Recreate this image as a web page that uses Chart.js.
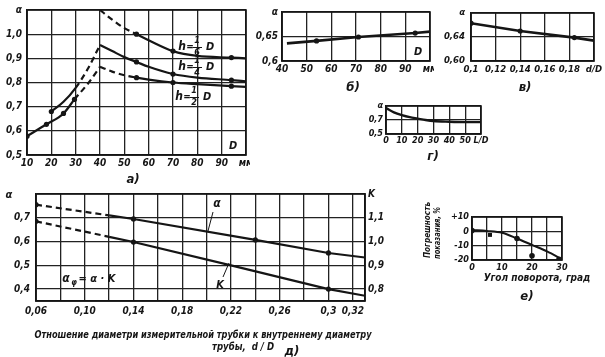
<!DOCTYPE html>
<html><head><meta charset="utf-8">
<script src="https://cdn.jsdelivr.net/npm/chart.js@4/dist/chart.umd.min.js"></script>
<style>
html,body{margin:0;padding:0;background:#fff;}
#wrap{position:relative;width:605px;height:357px;overflow:hidden;background:#fff;}
canvas{position:absolute;}
</style></head><body><div id="wrap"></div>
<script>
// ---------- Panel а) ----------
const aTicksX = [10,20,30,40,50,60,70,80,90,100];
const aLabelsX = ['10','20','30','40','50','60','70','80','90','мм'];
const aTicksY = [0.5,0.6,0.7,0.8,0.9,1.0,1.1];
const aLabelsY = ['0,5','0,6','0,7','0,8','0,9','1,0','α'];
const aD16 = [40,45,50,55,60,70,80,94,100];
const aA16 = [1.10,1.06,1.025,1.0,0.975,0.93,0.91,0.903,0.90];
const aMarks16 = [55,70,94];
const aD14L = [20,25,30,35,40];
const aA14L = [0.68,0.72,0.778,0.857,0.955];
const aMarks14L = [20];
const aD14R = [40,45,50,55,60,70,80,94,100];
const aA14R = [0.955,0.93,0.905,0.885,0.865,0.835,0.82,0.81,0.805];
const aMarks14R = [55,70,94];
const aD12L = [10,18,25,29.5,35,40];
const aA12L = [0.578,0.627,0.672,0.73,0.795,0.865];
const aMarks12L = [10,18,25,29.5];
const aD12R = [40,45,50,55,60,70,80,94,100];
const aA12R = [0.865,0.845,0.83,0.82,0.812,0.80,0.793,0.785,0.782];
const aMarks12R = [55,70,94];

// ---------- Panel б) ----------
const bTicksX = [40,50,60,70,80,90,100];
const bLabelsX = ['40','50','60','70','80','90','мм'];
const bTicksY = [0.6,0.65,0.7];
const bLabelsY = ['0,6','0,65','α'];
const bD = [42,54,71,94,100];
const bA = [0.636,0.641,0.649,0.657,0.66];
const bMarks = [54,71,94];

// ---------- Panel в) ----------
const vTicksX = [0.10,0.12,0.14,0.16,0.18,0.20];
const vLabelsX = ['0,1','0,12','0,14','0,16','0,18','d/D'];
const vTicksY = [0.60,0.64,0.68];
const vLabelsY = ['0,60','0,64','α'];
const vR = [0.10,0.14,0.184,0.20];
const vA = [0.663,0.650,0.639,0.634];
const vMarks = [0.10,0.14,0.184];

// ---------- Panel г) ----------
const gTicksX = [0,10,20,30,40,50,60];
const gLabelsX = ['0','10','20','30','40','50','L/D'];
const gTicksY = [0.5,0.7,0.9];
const gLabelsY = ['0,5','0,7','α'];
const gL = [0,5,10,15,20,25,30,40,50,60];
const gA = [0.87,0.81,0.77,0.74,0.72,0.70,0.685,0.675,0.67,0.67];

// ---------- Panel д) ----------
const dTicksX = [0.06,0.08,0.10,0.12,0.14,0.16,0.18,0.20,0.22,0.24,0.26,0.28,0.30,0.32,0.33];
const dLabelsX = ['0,06','','0,10','','0,14','','0,18','','0,22','','0,26','','0,3','0,32',''];
const dTicksY = [0.35,0.4,0.5,0.6,0.7,0.8];
const dLabelsY = ['','0,4','0,5','0,6','0,7',''];
const dTicksK = [0.75,0.8,0.9,1.0,1.1,1.2];
const dLabelsK = ['','0,8','0,9','1,0','1,1','K'];
const dRa = [0.06,0.12,0.14,0.24,0.30,0.33];
const dAlpha = [0.755,0.71,0.695,0.607,0.552,0.533];
const dMarksA = [0.06,0.14,0.24,0.30];
const dRk = [0.06,0.12,0.14,0.22,0.30,0.33];
const dK = [1.085,1.02,0.998,0.90,0.80,0.772];
const dMarksK = [0.06,0.14,0.30];

// ---------- Panel е) ----------
const eTicksX = [0,5,10,15,20,25,30];
const eLabelsX = ['0','','10','','20','','30'];
const eTicksY = [-20,-10,0,10];
const eLabelsY = ['-20','-10','0','+10'];
const eAngle = [0,5,10,15,20,25,30];
const eErr = [1,0.3,-1,-5,-9.5,-14,-19.5];
const ePtAngle = [0,6,15,20,29];
const ePtErr = [0.5,-2.5,-5,-17,-19.5];
const ePtStyle = ['circle','rect','circle','circle','circle'];

// ================= drawing =================
const BLACK = '#151515';
const FONT = '"DejaVu Sans Condensed","Liberation Sans Narrow","DejaVu Sans",sans-serif';
const wrap = document.getElementById('wrap');

const frame = { id:'frame', afterDraw(c){ const a=c.chartArea, x=c.ctx; x.save(); x.strokeStyle=BLACK; x.lineWidth=1.6; x.strokeRect(a.left,a.top,a.right-a.left,a.bottom-a.top); x.restore(); } };

function axis(pos, min, max, ticks, labels, size, fs, pad, grid) {
  return {
    type:'linear', position:pos, min, max,
    afterBuildTicks: s => { s.ticks = ticks.map(v=>({value:v})); },
    afterFit: s => {
      if (pos==='bottom') { s.height=size; s.paddingLeft=0; s.paddingRight=0; }
      else { s.width=size; s.paddingTop=0; s.paddingBottom=0; }
    },
    ticks: { autoSkip:false, maxRotation:0, minRotation:0, padding:pad, color:BLACK,
      font:{family:FONT, size:fs, style:'italic', weight:'bold'},
      callback: (v,i)=> labels[i] },
    grid: { display:grid, color:'#222', lineWidth:1.3, drawTicks:false },
    border: { display:true, color:BLACK, width:1.6 }
  };
}

function series(xs, ys, o={}) {
  const ds = {
    data: xs.map((x,i)=>({x, y:ys[i]})),
    borderColor:BLACK, backgroundColor:BLACK, borderWidth:o.bw||2.2,
    pointRadius: o.marks ? xs.map(x=> o.marks.includes(x)?2.6:0) : (o.r||0),
    pointHoverRadius:0, pointBorderWidth:0,
    pointStyle: o.style||'circle',
    cubicInterpolationMode: o.smooth?'monotone':'default', tension:0,
    yAxisID: o.axis||'y', showLine: o.line!==false, fill:false
  };
  if (o.dash) ds.segment = { borderDash: ctx => {
    const a=ctx.p0.parsed.x, b=ctx.p1.parsed.x;
    return o.dash.some(([lo,hi]) => a>=lo-1e-9 && b<=hi+1e-9) ? [6,4] : undefined; } };
  return ds;
}

function makePanel(p){
  const W=p.L+p.w+p.R, H=p.T+p.h+p.B;
  const cv=document.createElement('canvas');
  cv.width=W; cv.height=H;
  Object.assign(cv.style,{left:(p.x-p.L)+'px', top:(p.y-p.T)+'px', width:W+'px', height:H+'px'});
  wrap.appendChild(cv);
  const scales = { x: axis('bottom', ...p.xs), y: axis('left', ...p.ys) };
  if (p.y1) scales.y1 = axis('right', ...p.y1);
  new Chart(cv, { type:'line', data:{datasets:p.datasets},
    options:{ responsive:false, animation:false, devicePixelRatio:1, events:[],
      layout:{padding:{top:p.T, right:p.y1?0:p.R, left:0, bottom:0}},
      plugins:{legend:{display:false}, tooltip:{enabled:false}}, scales },
    plugins:[frame] });
}

// а)
makePanel({x:27,y:10,w:219,h:145,L:27,T:10,R:4,B:22,
  xs:[10,100,aTicksX,aLabelsX,22,10,2,true],
  ys:[0.5,1.1,aTicksY,aLabelsY,27,10,5,true],
  datasets:[
    series(aD16,aA16,{smooth:true,marks:aMarks16,dash:[[40,55]]}),
    series(aD14L,aA14L,{smooth:true,marks:aMarks14L,dash:[[30,40]]}),
    series(aD14R,aA14R,{smooth:true,marks:aMarks14R}),
    series(aD12L,aA12L,{smooth:true,marks:aMarks12L,dash:[[29.5,40]]}),
    series(aD12R,aA12R,{smooth:true,marks:aMarks12R,dash:[[40,55]]})
  ]});
// б)
makePanel({x:282,y:12,w:148,h:49,L:50,T:12,R:4,B:20,
  xs:[40,100,bTicksX,bLabelsX,20,10,2,true],
  ys:[0.6,0.7,bTicksY,bLabelsY,50,10,4,true],
  datasets:[ series(bD,bA,{marks:bMarks,bw:2.6}) ]});
// в)
makePanel({x:471,y:13,w:123,h:48,L:40,T:13,R:11,B:22,
  xs:[0.10,0.20,vTicksX,vLabelsX,22,9.5,3,true],
  ys:[0.60,0.68,vTicksY,vLabelsY,40,9.5,6,true],
  datasets:[ series(vR,vA,{marks:vMarks,bw:2.6}) ]});
// г)
makePanel({x:386,y:106,w:95,h:28,L:31,T:6,R:12,B:16,
  xs:[0,60,gTicksX,gLabelsX,16,9,1,true],
  ys:[0.5,0.9,gTicksY,gLabelsY,31,9,3,true],
  datasets:[ series(gL,gA,{smooth:true,bw:2.4}) ]});
// д)
makePanel({x:36,y:194,w:329,h:107,L:36,T:8,R:40,B:20,
  xs:[0.06,0.33,dTicksX,dLabelsX,20,10,4,true],
  ys:[0.35,0.8,dTicksY,dLabelsY,36,10,6,true],
  y1:[0.75,1.2,dTicksK,dLabelsK,40,10,3,false],
  datasets:[
    series(dRa,dAlpha,{marks:dMarksA,dash:[[0.06,0.12]]}),
    series(dRk,dK,{marks:dMarksK,dash:[[0.06,0.12]],axis:'y1'})
  ]});
// е)
makePanel({x:472,y:217,w:90,h:43,L:30,T:6,R:10,B:16,
  xs:[0,30,eTicksX,eLabelsX,16,9,2,true],
  ys:[-20,10,eTicksY,eLabelsY,30,9,3,true],
  datasets:[
    series(eAngle,eErr,{smooth:true,bw:2}),
    Object.assign(series(ePtAngle,ePtErr,{line:false,r:2.8}),{pointStyle:ePtStyle})
  ]});

// ---------- text annotations ----------
const ov=document.createElement('canvas');
ov.width=605; ov.height=357;
Object.assign(ov.style,{left:'0px',top:'0px',width:'605px',height:'357px',pointerEvents:'none'});
wrap.appendChild(ov);
const o=ov.getContext('2d');
o.fillStyle=BLACK; o.strokeStyle=BLACK;
function txt(s,x,y,size,align,maxW,bold){
  o.font=`italic ${bold===false?'':'bold '}${size}px ${FONT}`;
  o.textAlign=align||'left'; o.textBaseline='middle';
  if (maxW) o.fillText(s,x,y,maxW); else o.fillText(s,x,y);
}
function hLabel(x,y,den){
  txt('h',x,y,12,'center');
  txt('=',x+8,y,10,'center');
  txt('1',x+15,y-6,9,'center');
  o.lineWidth=1; o.beginPath(); o.moveTo(x+11,y+0.5); o.lineTo(x+20,y+0.5); o.stroke();
  txt(den,x+15,y+6,9,'center');
  txt('D',x+28,y,11,'center');
}
hLabel(182,47,'6');
hLabel(182,67,'4');
hLabel(179,97,'2');
txt('D',233,146,11,'center');
txt('D',418,52,11,'center');
// panel letters
txt('а)',133,180,13,'center');
txt('б)',353,88,13,'center');
txt('в)',525,88,13,'center');
txt('г)',433,157,13,'center');
txt('д)',292,352,13,'center');
txt('е)',527,297,13,'center');
// д annotations
txt('α',9,195,11,'center');
txt('α',217,204,12,'center');
o.lineWidth=1; o.beginPath(); o.moveTo(213,212); o.lineTo(208,231); o.stroke();
txt('K',220,285,11,'center');
o.beginPath(); o.moveTo(223,277); o.lineTo(229,263); o.stroke();
txt('α',66,279,12,'center');
txt('φ',74,283,8,'center');
txt('= α · K',97,279,11,'center');
txt('Отношение диаметри измерительной трубки к внутреннему диаметру',203,335,10,'center',337);
txt('трубы,  d / D',243,347,10,'center',62);
// е annotations
txt('Угол поворота, град',537,278,10,'center',130);
o.save(); o.translate(428,230); o.rotate(-Math.PI/2); txt('Погрешность',0,0,9,'center',56); o.restore();
o.save(); o.translate(438,233); o.rotate(-Math.PI/2); txt('показания, %',0,0,9,'center',52); o.restore();
</script></body></html>
